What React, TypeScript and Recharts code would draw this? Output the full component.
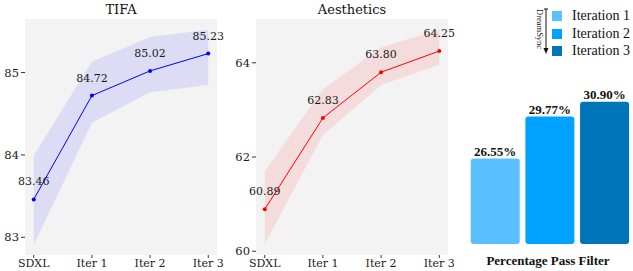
import React from 'react';
import { ComposedChart, Area, Line, XAxis, YAxis, CartesianGrid, LabelList, BarChart, Bar, Cell } from 'recharts';

const steps = ['SDXL', 'Iter 1', 'Iter 2', 'Iter 3'];

const tifaMean = [83.46, 84.72, 85.02, 85.23];
const tifaLow = [82.91, 84.39, 84.76, 84.85];
const tifaHigh = [83.99, 85.13, 85.43, 85.52];

const aesMean = [60.89, 62.83, 63.8, 64.25];
const aesLow = [60.15, 62.47, 63.53, 63.96];
const aesHigh = [61.7, 63.44, 64.33, 64.7];

const iterNames = ['Iteration 1', 'Iteration 2', 'Iteration 3'];
const passRates = [26.55, 29.77, 30.9];
const iterColors = ['#5ac0ff', '#00a2ff', '#0074b8'];

const serif = '"DejaVu Serif", serif';
const paper = '"Liberation Serif", serif';
const tickStyle = { fontSize: 11, fill: '#1a1a1a', fontFamily: serif };

interface PanelProps {
  title: string;
  mean: number[];
  low: number[];
  high: number[];
  color: string;
  band: string;
  domain: [number, number];
  ticks: number[];
  left: number;
  plotRight: number; // where the grey plot area ends, relative to panel
  axisWidth: number;
}

// extra room to the right so the last tick/label isn't clipped
const SPILL = 24;

const MetricPanel: React.FC<PanelProps> = ({ title, mean, low, high, color, band, domain, ticks, left, plotRight, axisWidth }) => {
  const data = steps.map((s, i) => ({ x: i, mean: mean[i], band: [low[i], high[i]] }));
  const width = plotRight + SPILL;
  return (
    <div style={{ position: 'absolute', left, top: 0, width, height: 271 }}>
      <div style={{ position: 'absolute', top: 2, left: axisWidth, width: plotRight - axisWidth, textAlign: 'center', fontFamily: serif, fontSize: 13, color: '#111' }}>
        {title}
      </div>
      <ComposedChart width={width} height={271} data={data} margin={{ top: 19, right: SPILL, bottom: 0, left: 0 }}>
        <CartesianGrid fill="#f3f3f3" stroke="none" horizontal={false} vertical={false} />
        <XAxis
          type="number"
          dataKey="x"
          domain={[-0.15, 3.15]}
          ticks={[0, 1, 2, 3]}
          interval={0}
          tickFormatter={(v: number) => steps[v]}
          height={16}
          axisLine={false}
          tickLine={{ stroke: '#333' }}
          tickSize={3}
          tickMargin={1}
          tick={tickStyle}
        />
        <YAxis
          type="number"
          domain={domain}
          ticks={ticks}
          allowDataOverflow
          width={axisWidth}
          axisLine={false}
          tickLine={{ stroke: '#333' }}
          tickSize={4}
          tickMargin={2}
          tick={{ ...tickStyle, fontSize: 11.5 }}
        />
        <Area dataKey="band" fill={band} fillOpacity={1} stroke="none" isAnimationActive={false} />
        <Line dataKey="mean" stroke={color} strokeWidth={1} dot={{ r: 2, fill: color, stroke: color, strokeWidth: 0 }} isAnimationActive={false}>
          <LabelList dataKey="mean" position="top" offset={14} formatter={(v: any) => Number(v).toFixed(2)} style={tickStyle} />
        </Line>
      </ComposedChart>
    </div>
  );
};

const PassFilter: React.FC = () => {
  const data = iterNames.map((name, i) => ({ name, value: passRates[i] }));
  return (
    <div style={{ position: 'absolute', left: 463, top: 0, width: 170, height: 271 }}>
      <BarChart width={170} height={271} data={data} margin={{ top: 87.5, right: 1, bottom: 27, left: 5 }} barCategoryGap="5%">
        <XAxis dataKey="name" hide />
        <YAxis type="number" domain={[20, 32]} hide />
        <Bar dataKey="value" radius={3} isAnimationActive={false}>
          {data.map((d, i) => (
            <Cell key={d.name} fill={iterColors[i]} />
          ))}
          <LabelList
            dataKey="value"
            position="top"
            offset={3}
            formatter={(v: any) => `${Number(v).toFixed(2)}%`}
            style={{ fontFamily: paper, fontWeight: 'bold', fontSize: 13, fill: '#111' }}
          />
        </Bar>
      </BarChart>
      <div style={{ position: 'absolute', left: 0, right: 0, top: 253, textAlign: 'center', fontFamily: paper, fontWeight: 'bold', fontSize: 13, color: '#111' }}>
        Percentage Pass Filter
      </div>
    </div>
  );
};

const IterLegend: React.FC = () => (
  <div style={{ position: 'absolute', left: 533, top: 7, width: 100, height: 50 }}>
    <div style={{ position: 'absolute', left: 2, top: 2, writingMode: 'vertical-rl', fontFamily: paper, fontSize: 8.5, color: '#111', lineHeight: '9px' }}>
      DreamSync
    </div>
    <svg style={{ position: 'absolute', left: 10, top: 0 }} width={6} height={48}>
      <line x1={1} y1={2} x2={5} y2={2} stroke="#111" strokeWidth={1} />
      <line x1={3} y1={2} x2={3} y2={44} stroke="#111" strokeWidth={1} />
      <path d="M0.5,41 L5.5,41 L3,47 Z" fill="#111" />
    </svg>
    {iterNames.map((name, i) => (
      <div key={name} style={{ position: 'absolute', left: 19, top: 1 + i * 17.5, height: 16, display: 'flex', alignItems: 'center' }}>
        <div style={{ width: 10, height: 10, background: iterColors[i], marginRight: 10 }} />
        <span style={{ fontFamily: paper, fontSize: 14, color: '#111' }}>{name}</span>
      </div>
    ))}
  </div>
);

const App: React.FC = () => (
  <div style={{ position: 'absolute', left: 0, top: 0, width: 633, height: 271, background: '#fff', overflow: 'hidden' }}>
    <MetricPanel
      title="TIFA"
      mean={tifaMean}
      low={tifaLow}
      high={tifaHigh}
      color="#0000ff"
      band="#dcdcf5"
      domain={[82.785, 85.65]}
      ticks={[83, 84, 85]}
      left={0}
      plotRight={217}
      axisWidth={25}
    />
    <MetricPanel
      title="Aesthetics"
      mean={aesMean}
      low={aesLow}
      high={aesHigh}
      color="#ff0000"
      band="#f5dcdc"
      domain={[59.92, 64.93]}
      ticks={[60, 62, 64]}
      left={220}
      plotRight={228}
      axisWidth={36}
    />
    <PassFilter />
    <IterLegend />
  </div>
);

export default App;
